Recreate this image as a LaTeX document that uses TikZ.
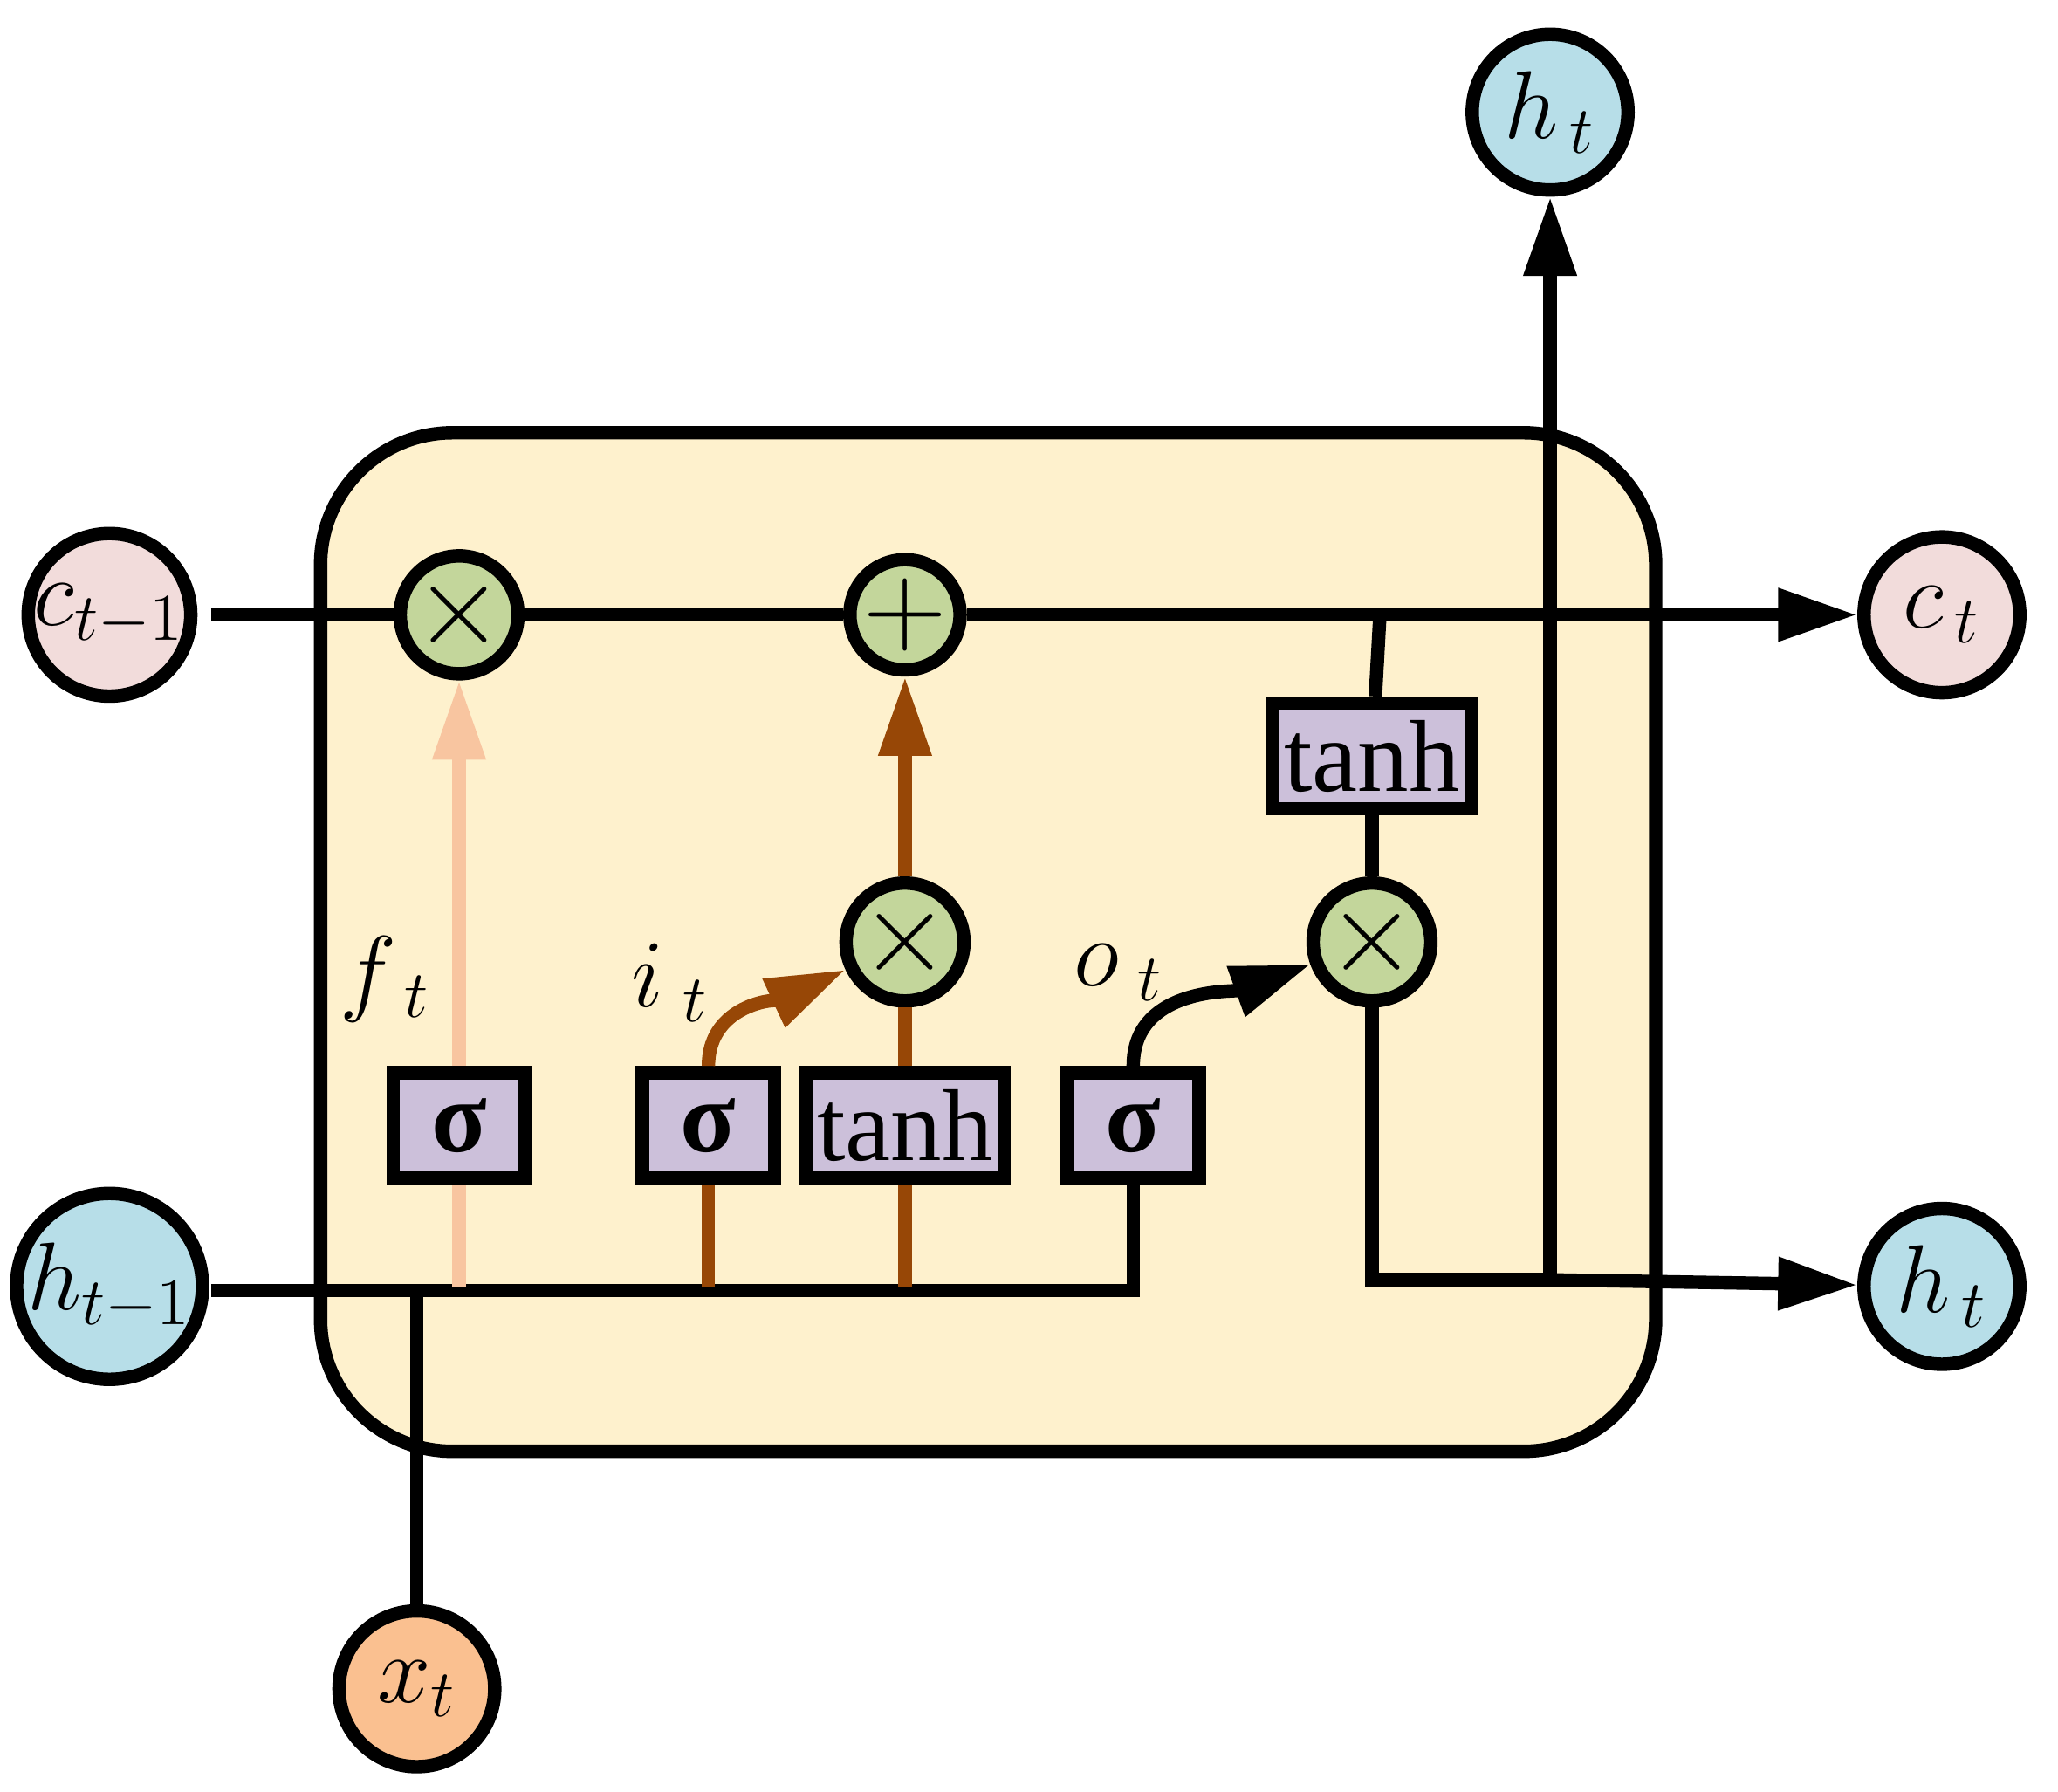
\documentclass[tikz,border=0pt]{standalone}
\usepackage{fontspec}
\setmainfont{Liberation Serif}
\usetikzlibrary{arrows.meta}
\definecolor{cellbg}{HTML}{FEF1CD}
\definecolor{pinkc}{HTML}{F2DCDB}
\definecolor{bluec}{HTML}{B7DEE8}
\definecolor{orangec}{HTML}{FAC090}
\definecolor{greenc}{HTML}{C3D69B}
\definecolor{purplec}{HTML}{CCC0DA}
\definecolor{brownc}{HTML}{974706}
\definecolor{peachc}{HTML}{F8C5A0}
\begin{document}
\begin{tikzpicture}[x=0.01cm,y=-0.01cm,
  lw/.style={line width=2.9pt},
  io/.style={circle,draw,lw,minimum size=1.18cm,inner sep=0pt,font=\fontsize{20}{20}\selectfont\itshape},
  op/.style={circle,draw,lw,fill=greenc,minimum size=0.8cm,inner sep=0pt,font=\fontsize{26}{26}\selectfont},
  gate/.style={draw,lw,fill=purplec,minimum height=0.8cm,minimum width=1cm,inner sep=0pt,font=\fontsize{22}{22}\selectfont},
  tip/.style={-{Triangle[length=0.6cm,width=0.38cm]}},
  lab/.style={font=\fontsize{22}{22}\selectfont}]
\useasboundingbox (0,0) rectangle (1560,1358);
\draw[lw,fill=cellbg,rounded corners=1cm] (243,328) rectangle (1255,1100);
% io nodes
\node[io,fill=pinkc] (cp) at (83,466) {$c_{t-1}$};
\node[io,fill=bluec] (hp) at (83,975) {$h_{t-1}$};
\node[io,fill=orangec] (x) at (316,1280) {$x_t$};
\node[io,fill=pinkc] (c) at (1472,466) {$c_{\,t}$};
\node[io,fill=bluec] (h) at (1472,975) {$h_{\,t}$};
\node[io,fill=bluec] (ht) at (1175,85) {$h_{\,t}$};
% ops
\node[op] (m1) at (348,466) {$\times$};
\node[op] (add) at (686,466) {$+$};
\node[op] (m2) at (686,714) {$\times$};
\node[op] (m3) at (1040,714) {$\times$};
% gates
\node[gate] (s1) at (348,853) {\textbf{σ}};
\node[gate] (s2) at (537,853) {\textbf{σ}};
\node[gate,minimum width=1.5cm] (tg) at (686,853) {tanh};
\node[gate] (s3) at (859,853) {\textbf{σ}};
\node[gate,minimum width=1.5cm] (tc) at (1040,573) {tanh};
% labels
\node[lab] (lf) at (292,742) {$f_{\;t}$};
\node[lab] (li) at (508,745) {$i_{\;t}$};
\node[lab] (lo) at (848,737) {$o_{\;t}$};
% cell state
\coordinate (cs) at (160,466);
\draw[lw] (cs) -- (m1) -- (add);
\draw[lw,tip] (add) -- (c);
\coordinate (tj) at (1046,466);
\draw[lw] (tj) -- (tc);
\draw[lw] (tc) -- (m3);
% hidden line
\coordinate (hs) at (160,978);
\coordinate (he) at (859,978);
\coordinate (xj) at (316,978);
\draw[lw] (hs) -- (he) -- (s3.south);
\draw[lw] (xj) -- (x);
% output
\coordinate (oc) at (1040,970);
\coordinate (oj) at (1175,970);
\draw[lw] (m3) -- (oc) -- (oj);
\draw[lw,tip] (oj) -- (h);
\draw[lw,tip] (oj) -- (ht);
% forget
\coordinate (f0) at (348,975);
\draw[peachc,lw] (f0) -- (s1.south);
\draw[peachc,lw,tip] (s1) -- (m1);
% input
\coordinate (i0) at (537,975);
\coordinate (g0) at (686,975);
\draw[brownc,lw] (i0) -- (s2.south);
\draw[brownc,lw] (g0) -- (tg.south);
\draw[brownc,lw] (tg) -- (m2);
\draw[brownc,lw,tip] (m2) -- (add);
\draw[brownc,lw,tip] (s2.north) to[out=90,in=205] (m2);
% output gate
\draw[lw,tip] (s3.north) to[out=90,in=200] (m3);
\end{tikzpicture}
\end{document}
